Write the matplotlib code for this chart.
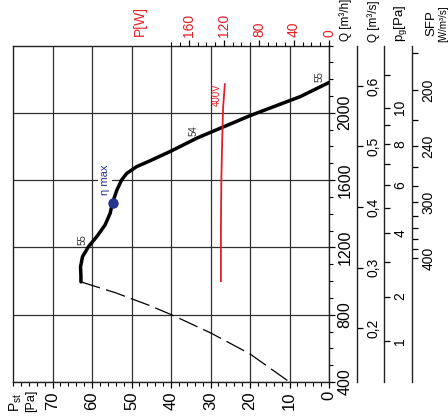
import numpy as np
import matplotlib
matplotlib.use('Agg')
import matplotlib.pyplot as plt

plt.rcParams['font.family'] = ['Liberation Sans', 'DejaVu Sans']
plt.rcParams['mathtext.fontset'] = 'custom'
plt.rcParams['mathtext.rm'] = 'Liberation Sans'
plt.rcParams['mathtext.it'] = 'Liberation Sans:italic'

# ---------------- data ----------------
# fan characteristic: static pressure [Pa] vs air flow [m3/h]
fan_p = [0.0, 7.3, 20.0, 33.4, 40.3, 45.3, 48.7, 51.2, 52.5, 53.7, 54.8, 55.4, 56.7,
         58.8, 60.9, 62.4, 62.9, 62.8, 62.8]
fan_q = [2180, 2096, 1983, 1850, 1769, 1715, 1680, 1640, 1601, 1541, 1466, 1403, 1333,
         1264, 1204, 1145, 1085, 1026, 995]
# dashed extension (unstable region)
ext_p = [62.8, 54.0, 45.8, 39.7, 29.9, 20.0, 10.0]
ext_q = [995, 930, 858, 798, 691, 567, 400]
# power input [W] vs air flow [m3/h]
power_w = [119, 121, 122, 123, 123.5, 123.5]
power_q = [2170, 2030, 1840, 1600, 1300, 1000]
eta_max_p, eta_max_q = 54.8, 1466
eff_text = ['55', '54', '55']
eff_p = [62.3, 34.2, 2.3]
eff_q = [1245, 1893, 2215]

p_ticks = [0, 10, 20, 30, 40, 50, 60, 70]
q_ticks = [400, 800, 1200, 1600, 2000]
w_ticks = [0, 40, 80, 120, 160]
qs_ticks = [0.2, 0.3, 0.4, 0.5, 0.6]
qs_labels = ['0,2', '0,3', '0,4', '0,5', '0,6']
pg_ticks = [1, 2, 4, 6, 8, 10]
pg_minor = [3, 5, 7, 9, 12]
sfp_ticks = [200, 240, 300, 400]
sfp_minor = [180, 220, 260, 280, 320, 340, 360, 380]

RED = '#e41e26'
BLUE = '#26338f'

W, H = 448, 419
fig = plt.figure(figsize=(W / 100, H / 100), dpi=100)
x0, x1, y0, y1 = 13, 329, 45.5, 382
ax = fig.add_axes([x0 / W, 1 - y1 / H, (x1 - x0) / W, (y1 - y0) / H])
ax.set_xlim(80, 0)
ax.set_ylim(400, 2400)

# grid
ax.set_xticks(p_ticks)
ax.set_xticks(np.arange(0, 81, 2), minor=True)
ax.set_yticks(q_ticks)
ax.set_yticks(np.arange(400, 2401, 100), minor=True)
ax.grid(True, which='major', color='#303030', lw=0.9)
ax.set_axisbelow(True)
for s in ax.spines.values():
    s.set_linewidth(1.0)
    s.set_color('#222222')

ax.yaxis.tick_right()
ax.tick_params(axis='x', which='major', direction='out', length=4.5, width=0.9, labelsize=12, pad=2)
ax.tick_params(axis='x', which='minor', direction='out', length=3, width=0.8)
ax.tick_params(axis='y', which='major', direction='out', length=4, width=0.9, labelsize=11.5, pad=2)
ax.tick_params(axis='y', which='minor', direction='out', length=3, width=0.8)
ax.set_xticklabels([str(v) for v in p_ticks], rotation=90)
ax.set_yticklabels([str(v) for v in q_ticks], rotation=90, va='center')

# curves
ax.plot(fan_p, fan_q, color='black', lw=2.5, solid_capstyle='round', solid_joinstyle='round', zorder=3)
ax.plot(ext_p, ext_q, color='black', lw=0.9, dashes=(16, 5), zorder=3)
ax.plot([eta_max_p], [eta_max_q], 'o', color=BLUE, ms=6.5, zorder=4)
ax.text(56.7, 1600, 'η max', rotation=90, color=BLUE, fontsize=8, ha='center', va='center',
        bbox=dict(facecolor='white', edgecolor='none', pad=1.5), zorder=3)
for t, p, q in zip(eff_text, eff_p, eff_q):
    ax.text(p, q, t, rotation=90, fontsize=7, color='#333333', ha='center', va='center', zorder=3)

# power axis on top
axw = ax.twiny()
axw.set_xlim(361, 0)
axw.plot(power_w, power_q, color=RED, lw=1.3, zorder=3)
axw.text(128, 2108, '400V', rotation=90, color=RED, fontsize=7, ha='center', va='center')
axw.set_xticks(w_ticks)
axw.set_xticks([v for v in range(0, 181, 10) if v not in w_ticks], minor=True)
axw.set_xticklabels([str(v) for v in w_ticks], rotation=90, color=RED)
axw.tick_params(axis='x', which='major', direction='out', length=4, width=0.9, labelsize=10, pad=2)
axw.tick_params(axis='x', which='minor', direction='out', length=3, width=0.8)
for s in axw.spines.values():
    s.set_visible(False)

# additional flow scales on the right
def loc(px):
    return (px - x0) / (x1 - x0)

def q_to_qs(q):
    return np.asarray(q, float) / 3600.0

def qs_to_q(v):
    return np.asarray(v, float) * 3600.0

def q_to_pg(q):
    return 10.0 * (np.asarray(q, float) / 2030.0) ** 2

def pg_to_q(v):
    return 2030.0 * np.sqrt(np.maximum(np.asarray(v, float), 0) / 10.0)

def q_to_sfp(q):
    q = np.asarray(q, float)
    with np.errstate(divide='ignore', invalid='ignore'):
        return 399600.0 / np.where(q - 138 == 0, 1e-9, q - 138)

def sfp_to_q(v):
    v = np.asarray(v, float)
    with np.errstate(divide='ignore', invalid='ignore'):
        return 399600.0 / np.where(v == 0, 1e-9, v) + 138

def style_sec(sec, ticks, labels, minor=None):
    sec.set_yticks(ticks)
    sec.set_yticklabels(labels, rotation=90, va='center')
    if minor is not None:
        sec.set_yticks(minor, minor=True)
    else:
        sec.set_yticks([], minor=True)
    sec.tick_params(axis='y', which='major', direction='out', length=4, width=0.9, labelsize=10, pad=3)
    sec.tick_params(axis='y', which='minor', direction='out', length=4, width=0.9)
    for s in sec.spines.values():
        s.set_linewidth(1.0)
        s.set_color('#222222')

sec_qs = ax.secondary_yaxis(loc(357), functions=(q_to_qs, qs_to_q))
style_sec(sec_qs, qs_ticks, qs_labels)
sec_pg = ax.secondary_yaxis(loc(383.5), functions=(q_to_pg, pg_to_q))
style_sec(sec_pg, pg_ticks, [str(v) for v in pg_ticks], pg_minor)
sec_sfp = ax.secondary_yaxis(loc(412), functions=(q_to_sfp, sfp_to_q))
style_sec(sec_sfp, sfp_ticks, [str(v) for v in sfp_ticks], sfp_minor)

# axis titles
def ftext(px, py, s, **kw):
    fig.text(px / W, 1 - py / H, s, rotation=90, **kw)

ftext(16, 412, r'P$_{\mathrm{st}}$', fontsize=10, ha='center', va='bottom')
ftext(31, 412, '[Pa]', fontsize=9, ha='center', va='bottom')
ftext(140, 36, 'P[W]', fontsize=10, color=RED, ha='center', va='bottom')
ftext(346, 41, 'Q [m³/h]', fontsize=8.5, ha='center', va='bottom')
ftext(374, 42, 'Q [m³/s]', fontsize=8.5, ha='center', va='bottom')
ftext(400, 42, r'p$_{\mathrm{g}}$[Pa]', fontsize=9.5, ha='center', va='bottom')
ftext(431, 36, 'SFP', fontsize=9.5, ha='center', va='bottom')
ftext(443, 42, '[W/m³/s]', fontsize=7, ha='center', va='bottom')

fig.savefig('out.png', dpi=100)
